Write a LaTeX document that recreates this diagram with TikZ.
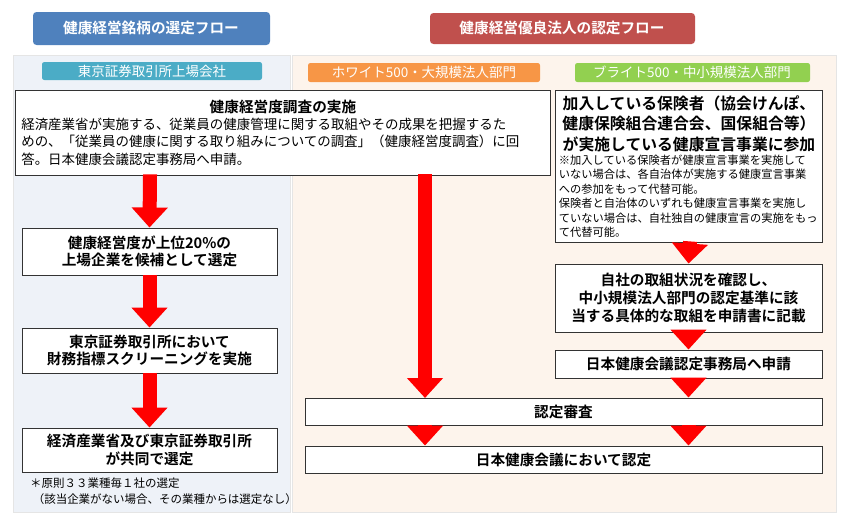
\documentclass[tikz,border=0pt]{standalone}
\usepackage{fontspec}
\setmainfont{Noto Sans CJK JP}[BoldFont={Noto Sans CJK JP Bold}]
\usetikzlibrary{arrows.meta}
\definecolor{headblue}{RGB}{79,129,189}
\definecolor{headred}{RGB}{192,80,77}
\definecolor{tagteal}{RGB}{75,172,198}
\definecolor{tagorange}{RGB}{247,150,70}
\definecolor{taggreen}{RGB}{146,208,80}
\definecolor{leftbg}{RGB}{238,242,248}
\definecolor{rightbg}{RGB}{253,244,236}
\tikzset{
  flowbox/.style={draw=black!80,fill=white,line width=0.8pt,align=center,font=\bfseries\fontsize{12.5}{15}\selectfont},
  head/.style={rounded corners=3pt,text=white,font=\bfseries\fontsize{12.5}{14}\selectfont},
  tag/.style={rounded corners=2pt,text=white,font=\fontsize{11.5}{13}\selectfont},
  bigarrow/.style={draw=red,line width=0.42cm,-{Triangle[width=1.05cm,length=0.6cm]},shorten <=-0.5pt}
}
\begin{document}
\begin{tikzpicture}[x=0.03cm,y=-0.03cm]
\useasboundingbox (0,0) rectangle (846,524);

% backgrounds
\fill[leftbg,draw=black!10] (13,55) rectangle (290,512);
\fill[rightbg,draw=black!10] (292,55) rectangle (836,512);

% headers and tags
\fill[headblue,rounded corners=3pt] (33,12) rectangle (270,45);
\node[head] (hl) at (151,28) {健康経営銘柄の選定フロー};
\fill[headred,rounded corners=3pt] (430,13) rectangle (695,44);
\node[head] (hr) at (562,28) {健康経営優良法人の認定フロー};
\fill[tagteal,rounded corners=2pt] (42,62) rectangle (262,80);
\node[tag] (tl) at (152,71) {東京証券取引所上場会社};
\fill[tagorange,rounded corners=2pt] (308,63) rectangle (540,82);
\node[tag] (to) at (424,72) {ホワイト500・大規模法人部門};
\fill[taggreen,rounded corners=2pt] (575,63) rectangle (810,82);
\node[tag] (tg) at (692,72) {ブライト500・中小規模法人部門};

% boxes
\node[flowbox,minimum width=535*0.03cm,minimum height=85*0.03cm,align=left,anchor=north west,inner sep=3pt] (survey) at (15,90)
  {\begin{minipage}{15.7cm}\centering{\bfseries 健康経営度調査の実施}\\[-1pt]
  \raggedright\mdseries\fontsize{11.5}{15}\selectfont
  経済産業省が実施する、従業員の健康管理に関する取組やその成果を把握するた\\
  めの、「従業員の健康に関する取り組みについての調査」（健康経営度調査）に回\\
  答。日本健康会議認定事務局へ申請。\end{minipage}};
\node[flowbox,minimum width=267*0.03cm,minimum height=152*0.03cm,anchor=north west,inner sep=3pt] (insurer) at (555,90)
  {\begin{minipage}{7.8cm}\centering\fontsize{13.5}{17.5}\selectfont
  加入している保険者（協会けんぽ、\\
  健康保険組合連合会、国保組合等）\\
  が実施している健康宣言事業に参加\par
  \raggedright\mdseries\fontsize{9.6}{12.3}\selectfont
  ※加入している保険者が健康宣言事業を実施して\\
  いない場合は、各自治体が実施する健康宣言事業\\
  への参加をもって代替可能。\\
  保険者と自治体のいずれも健康宣言事業を実施し\\
  ていない場合は、自社独自の健康宣言の実施をもっ\\
  て代替可能。\end{minipage}};

\node[flowbox,minimum width=255*0.03cm,minimum height=47*0.03cm] (top20) at (149.5,251.5) {健康経営度が上位20\%の\\上場企業を候補として選定};
\node[flowbox,minimum width=255*0.03cm,minimum height=45*0.03cm] (screen) at (149.5,350.5) {東京証券取引所において\\財務指標スクリーニングを実施};
\node[flowbox,minimum width=255*0.03cm,minimum height=44*0.03cm] (joint) at (149.5,450) {経済産業省及び東京証券取引所\\が共同で選定};
\node[anchor=north west,align=left,inner sep=0pt,font=\fontsize{9.8}{13}\selectfont] (note) at (30,478)
  {＊原則３３業種毎１社の選定\\\ （該当企業がない場合、その業種からは選定なし）};

\node[flowbox,minimum width=267*0.03cm,minimum height=68*0.03cm] (check) at (688.5,298) {自社の取組状況を確認し、\\中小規模法人部門の認定基準に該\\当する具体的な取組を申請書に記載};
\node[flowbox,minimum width=267*0.03cm,minimum height=28*0.03cm] (apply) at (688.5,364) {日本健康会議認定事務局へ申請};
\node[flowbox,minimum width=517*0.03cm,minimum height=27*0.03cm] (review) at (563.5,411.5) {認定審査};
\node[flowbox,minimum width=517*0.03cm,minimum height=27*0.03cm] (cert) at (563.5,459.5) {日本健康会議において認定};

% arrows
\coordinate (m1) at (150,175);
\coordinate (m2) at (425,175);
\coordinate (m3) at (425,398);
\coordinate (r1) at (690,242);
\draw[bigarrow] (m1) -- (top20.north);
\draw[bigarrow] (top20.south) -- (screen.north);
\draw[bigarrow] (screen.south) -- (joint.north);
\draw[bigarrow] (m2) -- (m3);
\draw[bigarrow] (r1) -- (check.north);
\draw[bigarrow] (check.south) -- (apply.north);
\draw[bigarrow] (apply.south) -- (review.north -| apply.south);
\draw[bigarrow] (review.south -| m2) -- (cert.north -| m2);
\draw[bigarrow] (review.south -| apply.south) -- (cert.north -| apply.south);
\end{tikzpicture}
\end{document}
